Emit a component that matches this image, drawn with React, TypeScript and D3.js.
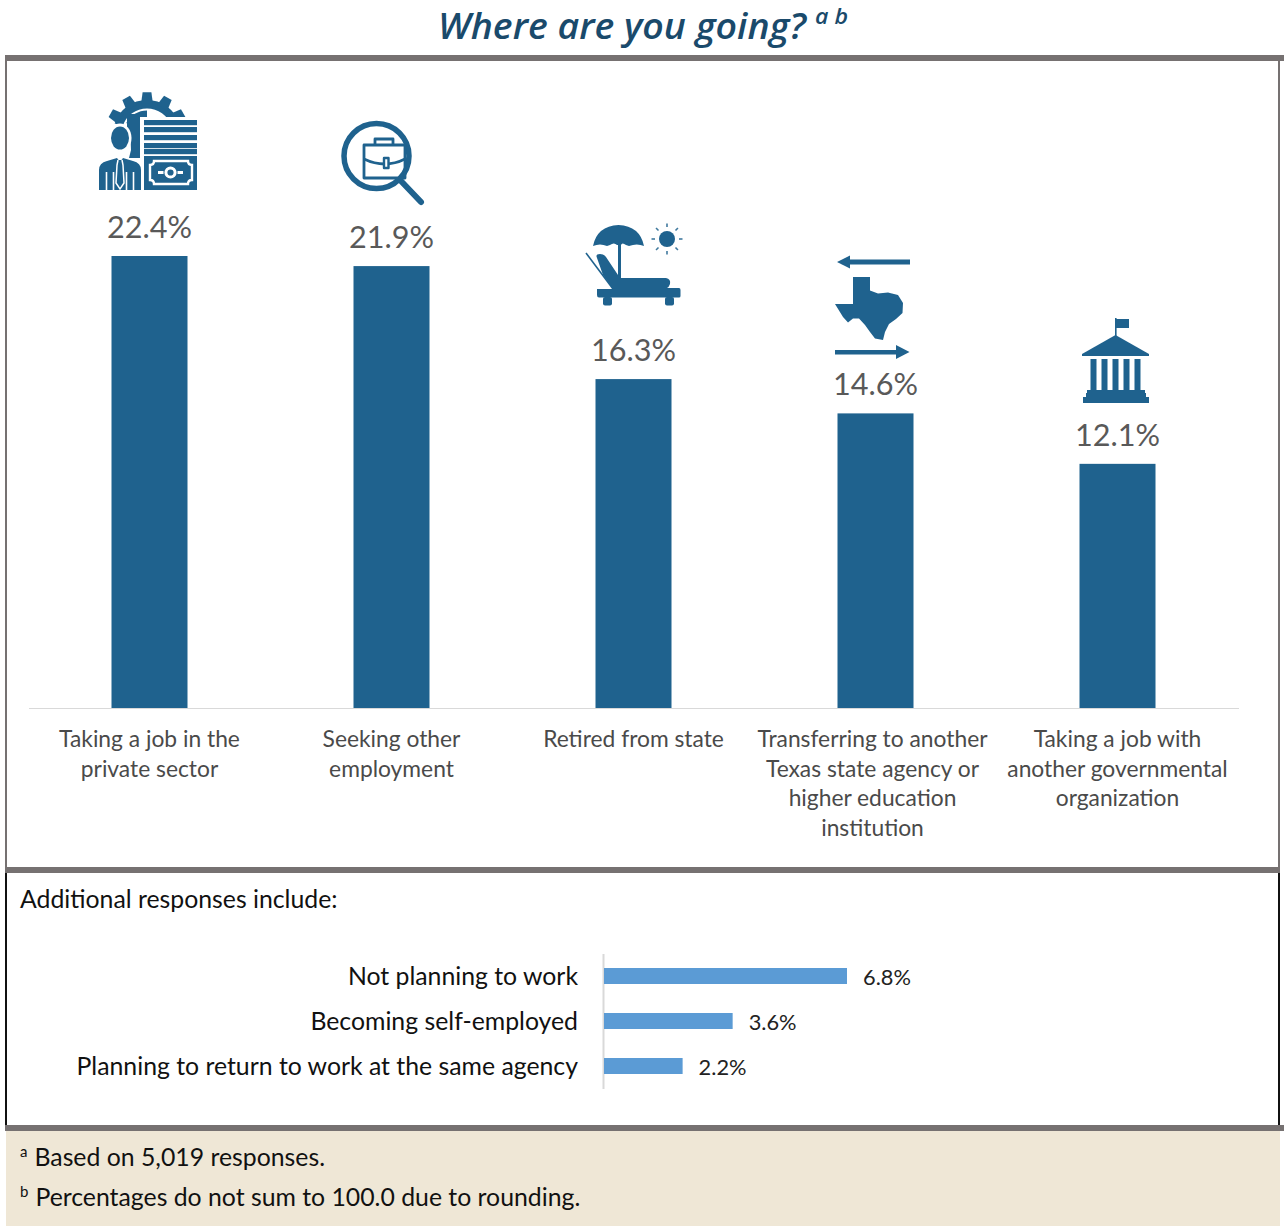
import React from "react";
import * as d3 from "d3";

// Main chart: share of departing employees by destination
const destinations = [
  ["Taking a job in the", "private sector"],
  ["Seeking other", "employment"],
  ["Retired from state"],
  ["Transferring to another", "Texas state agency or", "higher education", "institution"],
  ["Taking a job with", "another governmental", "organization"],
];
const destinationValues = [22.4, 21.9, 16.3, 14.6, 12.1];

// Secondary chart: additional responses
const additionalLabels = [
  "Not planning to work",
  "Becoming self-employed",
  "Planning to return to work at the same agency",
];
const additionalValues = [6.8, 3.6, 2.2];

const footnotes = [
  ["a", "Based on 5,019 responses."],
  ["b", "Percentages do not sum to 100.0 due to rounding."],
];

const BLUE = "#1f628e";
const GREY = "#767171";
const BODY = "Lato, 'Open Sans', sans-serif";

const x = d3.scaleBand<number>().domain(d3.range(5)).range([29, 1239]);
const y = d3.scaleLinear().domain([0, 22.4]).range([708, 256]);
const barWidth = 76;

const x2 = d3.scaleLinear().domain([0, 6.8]).range([604, 847]);
const y2 = d3.scaleBand<number>().domain(d3.range(3)).range([954, 1089]);

function BusinessIcon() {
  const deg = Math.PI / 180;
  const band = d3.arc()({ innerRadius: 25.5, outerRadius: 34, startAngle: -72 * deg, endAngle: 72 * deg } as any)!;
  const inner = d3.arc()({ innerRadius: 10, outerRadius: 23.5, startAngle: -62 * deg, endAngle: 0 } as any)!;
  const teeth = [-60, -30, 0, 30, 60].map((a) => {
    const p = (r: number, t: number) => {
      const v = (a + t - 90) * deg;
      return `${r * Math.cos(v)},${r * Math.sin(v)}`;
    };
    return `M${p(31, -11)}L${p(42, -6)}L${p(42, 6)}L${p(31, 11)}Z`;
  });
  return (
    <g fill={BLUE}>
      <g transform="translate(147,134)">
        <path d={band} />
        {teeth.map((d, i) => <path key={i} d={d} />)}
        <path d={inner} />
      </g>
      <rect x="127" y="114" width="13" height="44" />
      {/* Clear space for the head and the document */}
      <ellipse cx="120" cy="138" rx="11.5" ry="14.5" fill="#fff" />
      <path d="M120,124Q131,129 131,150L129,158H108V150Z" fill="#fff" />
      <rect x="140" y="117" width="60" height="75" fill="#fff" />
      <ellipse cx="120" cy="138" rx="9" ry="11.5" />
      <path d="M99,190V170Q99,163 107,161L117,158L120,162L123,158L133,161Q141,163 141,170V190Z" />
      <path d="M106.5,172V190M113.5,172V190M126.5,172V190M133.5,172V190" stroke="#fff" strokeWidth="1.6" fill="none" />
      <path d="M118,160L117,165L116,183L120,189L124,183L123,165L122,160" stroke="#fff" strokeWidth="1.5" fill={BLUE} />
      {[120, 127, 135, 143, 149].map((top) => (
        <rect key={top} x="144" y={top} width="53" height="5.2" />
      ))}
      <rect x="144" y="156" width="53" height="34" />
      <path
        d="M154,161H188Q188,165 192,165V180Q188,180 188,184H154Q154,180 150,180V165Q154,165 154,161Z"
        fill="none"
        stroke="#fff"
        strokeWidth="2.4"
      />
      <circle cx="170.5" cy="172.5" r="4.6" fill={BLUE} stroke="#fff" strokeWidth="3" />
      <rect x="158" y="171" width="5.5" height="3" fill="#fff" />
      <rect x="177.5" y="171" width="5.5" height="3" fill="#fff" />
    </g>
  );
}

function SearchIcon() {
  return (
    <g transform="translate(341,119)" stroke={BLUE} fill="none" strokeLinejoin="round">
      <circle cx="35.5" cy="37" r="32.5" strokeWidth="5.5" />
      <path d="M60,62L80,83" strokeWidth="6" strokeLinecap="round" />
      <rect x="23" y="26" width="41" height="33" strokeWidth="2.8" />
      <path d="M23,40Q44,50 64,40" strokeWidth="2.8" />
      <path d="M34,26V20H52V26" strokeWidth="2.8" />
      <rect x="43" y="39" width="4.5" height="10" fill="#fff" strokeWidth="2.4" />
    </g>
  );
}

function BeachIcon() {
  const rays = d3.range(8).map((i) => (i * Math.PI) / 4);
  return (
    <g fill={BLUE}>
      <path d="M593,246Q597,226 618.5,225Q640,226 644,246Q637,243 629,246L626,245Q622,242 621,245H617Q614,242 610,245L607,246Q600,243 593,246Z" />
      <rect x="618" y="244" width="3" height="36" />
      <path d="M586,253L613,289" stroke={BLUE} strokeWidth="1.6" fill="none" />
      <path d="M597,258Q595,254 600,254Q604,254 606,257L620,278H666Q671,279 670,284Q669,287 667,288H679Q680.5,288 680.5,290V296Q680.5,297.5 679,297.5H599Q597,297.5 597,295V289H613L603,275Z" />
      <path d="M598,289L602.5,279" stroke="#fff" strokeWidth="1" fill="none" />
      <rect x="603" y="297" width="9" height="8.5" rx="2" />
      <rect x="665" y="297" width="9" height="8.5" rx="2" />
      <g transform="translate(667,239)">
        <circle r="8" />
        {rays.map((a, i) => (
          <line key={i} x1={Math.cos(a) * 12} y1={Math.sin(a) * 12} x2={Math.cos(a) * 15.5} y2={Math.sin(a) * 15.5} stroke={BLUE} strokeWidth="1.6" opacity="0.85" />
        ))}
      </g>
    </g>
  );
}

function TexasIcon() {
  return (
    <g fill={BLUE}>
      <path d="M910,259.5H850V255.5L837,262L850,268.5V264.5H910Z" />
      <path d="M835,350H896V345L909.5,352L896,359V354.5H835Z" />
      <path d="M853,277H870V290.5L878,293.5L888,292.5L898,295L903,303L902.5,313L896,319L889,324L885,332L883,340L875,338.5L870,332L865,325L859,318.5H853L848,322.5L843,317L835,304H853Z" />
    </g>
  );
}

function CapitolIcon() {
  return (
    <g fill={BLUE}>
      <rect x="1115" y="318" width="1.6" height="18" />
      <rect x="1116" y="319" width="13" height="9" />
      <path d="M1115.5,335L1149,354V356H1082V354Z" />
      {d3.range(5).map((i) => (
        <rect key={i} x={1090.5 + i * 11} y="359" width={6} height="31" />
      ))}
      <rect x="1087" y="390" width="58" height="3" />
      <rect x="1086" y="393" width="60" height="4" />
      <rect x="1083" y="397" width="66" height="6" />
    </g>
  );
}

export default function App() {
  return (
    <svg
      width={1284}
      height={1226}
      style={{ position: "absolute", left: 0, top: 0, display: "block" }}
      fontFamily={BODY}
    >
      <rect width={1284} height={1226} fill="#fff" />

      <text x={438} y={38.5} textLength={368} lengthAdjust="spacingAndGlyphs" fontFamily="'Open Sans', sans-serif" fontStyle="italic" fontWeight={600} fontSize={36} fill="#1a4a6b">
        Where are you going?
      </text>
      <text x={815} y={23.5} textLength={33} lengthAdjust="spacingAndGlyphs" fontFamily="'Open Sans', sans-serif" fontStyle="italic" fontWeight={600} fontSize={21.5} fill="#1a4a6b">
        a b
      </text>

      {/* Panel frame */}
      <rect x={5} y={61} width={2} height={806} fill={GREY} />
      <rect x={1278} y={61} width={2} height={806} fill={GREY} />
      <rect x={5} y={872} width={2} height={253} fill="#111" />
      <rect x={1278} y={872} width={2} height={253} fill="#111" />
      <rect x={5} y={55} width={1279} height={6} fill={GREY} />
      <rect x={5} y={867} width={1275} height={6} fill={GREY} />
      <rect x={5} y={1125} width={1279} height={6} fill={GREY} />

      {/* Destination bars */}
      <line x1={29} x2={1239} y1={708.5} y2={708.5} stroke="#d9d9d9" strokeWidth={1.2} />
      {destinationValues.map((v, i) => {
        const cx = x(i)! + x.bandwidth() / 2 - 0.5;
        return (
          <g key={i}>
            <rect x={cx - barWidth / 2} y={y(v)} width={barWidth} height={y(0) - y(v)} fill={BLUE} />
            <text x={cx} y={y(v) - 18} textAnchor="middle" fontSize={30.6} fill="#595959">
              {v.toFixed(1)}%
            </text>
            {destinations[i].map((line, j) => (
              <text key={j} x={i === 3 ? cx - 3 : cx} y={747 + j * 29.6} textAnchor="middle" fontSize={22.8} fill="#4a4a4a">
                {line}
              </text>
            ))}
          </g>
        );
      })}

      <BusinessIcon />
      <SearchIcon />
      <BeachIcon />
      <TexasIcon />
      <CapitolIcon />

      {/* Additional responses */}
      <text x={20} y={908} fontSize={24.8} fill="#111">Additional responses include:</text>
      <line x1={603.5} x2={603.5} y1={954} y2={1089} stroke="#d9d9d9" strokeWidth={2} />
      {additionalValues.map((v, i) => {
        const h = 16;
        const top = y2(i)! + (y2.bandwidth() - h) / 2 - 0.5;
        return (
          <g key={i}>
            <rect x={x2(0)} y={top} width={x2(v) - x2(0)} height={h} fill="#5b9bd5" />
            <text x={578} y={top + 17} textAnchor="end" fontSize={24.8} fill="#111">
              {additionalLabels[i]}
            </text>
            <text x={x2(v) + 16} y={top + 17} fontSize={21.8} fill="#222">
              {v.toFixed(1)}%
            </text>
          </g>
        );
      })}

      {/* Notes */}
      <rect x={6} y={1131} width={1274} height={95} fill="#efe7d6" />
      {footnotes.map(([mark, note], i) => (
        <text key={mark} x={20} y={1166 + i * 40} fontSize={24.8} fill="#111">
          <tspan fontSize={15} dy={-9}>{mark}</tspan>
          <tspan dy={9} dx={7}>{note}</tspan>
        </text>
      ))}
    </svg>
  );
}
